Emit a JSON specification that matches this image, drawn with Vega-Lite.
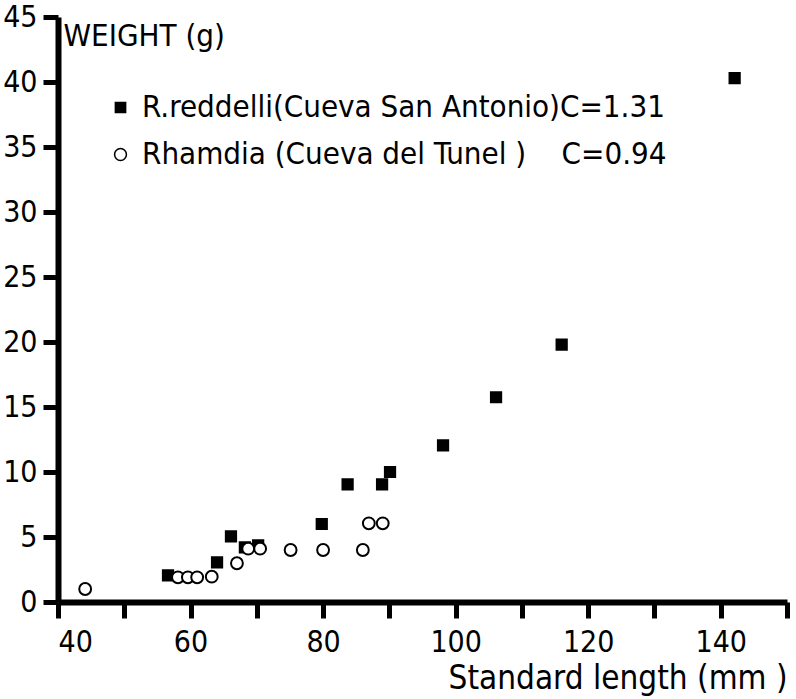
{
  "$schema": "https://vega.github.io/schema/vega-lite/v6.json",
  "width": 729,
  "height": 585,
  "autosize": "none",
  "padding": {"left": 58, "top": 17, "right": 9, "bottom": 97},
  "background": "white",
  "config": {
    "view": {"stroke": null},
    "font": "DejaVu Sans Condensed",
    "axis": {"grid": false, "domainColor": "black", "tickColor": "black", "labelColor": "black", "titleColor": "black", "labelFont": "DejaVu Sans Condensed", "titleFont": "DejaVu Sans Condensed", "labelFontSize": 30, "titleFontSize": 31, "titleFontWeight": "normal", "domainWidth": 6, "tickWidth": 5}
  },
  "data": {
    "values": [
      {"species": "R", "length": 56.6, "weight": 2.05},
      {"species": "R", "length": 64.0, "weight": 3.05},
      {"species": "R", "length": 66.1, "weight": 5.05},
      {"species": "R", "length": 68.2, "weight": 4.2},
      {"species": "R", "length": 70.2, "weight": 4.35},
      {"species": "R", "length": 79.8, "weight": 6.0},
      {"species": "R", "length": 83.7, "weight": 9.05},
      {"species": "R", "length": 88.9, "weight": 9.05},
      {"species": "R", "length": 90.1, "weight": 10.0},
      {"species": "R", "length": 98.1, "weight": 12.05},
      {"species": "R", "length": 106.1, "weight": 15.75},
      {"species": "R", "length": 116.0, "weight": 19.8},
      {"species": "R", "length": 142.1, "weight": 40.3},
      {"species": "T", "length": 44.1, "weight": 1.0},
      {"species": "T", "length": 58.1, "weight": 1.9},
      {"species": "T", "length": 59.6, "weight": 1.9},
      {"species": "T", "length": 61.0, "weight": 1.9},
      {"species": "T", "length": 63.2, "weight": 1.95},
      {"species": "T", "length": 67.0, "weight": 2.98},
      {"species": "T", "length": 68.7, "weight": 4.1},
      {"species": "T", "length": 70.5, "weight": 4.1},
      {"species": "T", "length": 75.1, "weight": 4.0},
      {"species": "T", "length": 80.0, "weight": 4.0},
      {"species": "T", "length": 86.0, "weight": 4.0},
      {"species": "T", "length": 86.9, "weight": 6.05},
      {"species": "T", "length": 89.0, "weight": 6.05}
    ]
  },
  "mark": {"type": "point", "filled": true, "stroke": "black", "strokeWidth": 2, "opacity": 1},
  "encoding": {
    "x": {
      "field": "length", "type": "quantitative",
      "scale": {"domain": [40, 150], "nice": false, "zero": false},
      "axis": {
        "title": "Standard length (mm )",
        "values": [40, 50, 60, 70, 80, 90, 100, 110, 120, 130, 140, 150],
        "labelExpr": "datum.value % 20 == 0 && datum.value < 150 ? datum.label : ''",
        "tickSize": 16, "labelPadding": 9,
        "titleAnchor": "end", "titlePadding": 5, "titleFontSize": 33
      }
    },
    "y": {
      "field": "weight", "type": "quantitative",
      "scale": {"domain": [0, 45], "nice": false},
      "axis": {
        "title": "WEIGHT (g)",
        "values": [0, 5, 10, 15, 20, 25, 30, 35, 40, 45],
        "tickSize": 15, "labelPadding": 6,
        "titleAngle": 0, "titleAlign": "left", "titleBaseline": "alphabetic",
        "titleX": 5, "titleY": 28
      }
    },
    "shape": {
      "field": "species", "type": "nominal",
      "scale": {"domain": ["R", "T"], "range": ["square", "circle"]},
      "legend": {
        "title": null, "orient": "none", "legendX": 47, "legendY": 75,
        "labelExpr": "datum.value == 'R' ? 'R.reddelli(Cueva San Antonio)C=1.31' : 'Rhamdia (Cueva del Tunel )\u00a0\u00a0\u00a0\u00a0C=0.94'",
        "labelFont": "DejaVu Sans Condensed",
        "labelFontSize": 31, "labelColor": "black", "labelLimit": 700,
        "rowPadding": 15, "labelOffset": 6, "padding": 0,
        "encode": {"symbols": {"update": {"stroke": {"value": "black"}, "strokeWidth": {"value": 1.6}, "size": {"value": 120}}}}
      }
    },
    "fill": {
      "field": "species", "type": "nominal",
      "scale": {"domain": ["R", "T"], "range": ["black", "white"]},
      "legend": {
        "title": null, "orient": "none", "legendX": 47, "legendY": 75,
        "labelExpr": "datum.value == 'R' ? 'R.reddelli(Cueva San Antonio)C=1.31' : 'Rhamdia (Cueva del Tunel )\u00a0\u00a0\u00a0\u00a0C=0.94'",
        "labelFont": "DejaVu Sans Condensed",
        "labelFontSize": 31, "labelColor": "black", "labelLimit": 700,
        "rowPadding": 15, "labelOffset": 6, "padding": 0,
        "encode": {"symbols": {"update": {"stroke": {"value": "black"}, "strokeWidth": {"value": 1.6}, "size": {"value": 120}}}}
      }
    },
    "size": {
      "field": "species", "type": "nominal",
      "scale": {"domain": ["R", "T"], "range": [105, 140]},
      "legend": {
        "title": null, "orient": "none", "legendX": 47, "legendY": 75,
        "labelExpr": "datum.value == 'R' ? 'R.reddelli(Cueva San Antonio)C=1.31' : 'Rhamdia (Cueva del Tunel )\u00a0\u00a0\u00a0\u00a0C=0.94'",
        "labelFont": "DejaVu Sans Condensed",
        "labelFontSize": 31, "labelColor": "black", "labelLimit": 700,
        "rowPadding": 15, "labelOffset": 6, "padding": 0,
        "encode": {"symbols": {"update": {"stroke": {"value": "black"}, "strokeWidth": {"value": 1.6}, "size": {"value": 120}}}}
      }
    }
  }
}
